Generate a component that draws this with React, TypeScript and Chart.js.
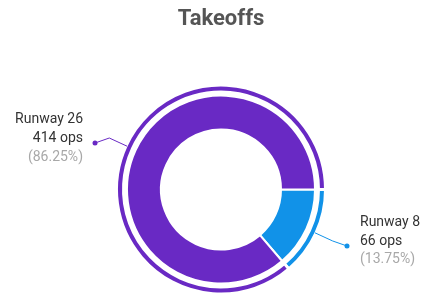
import React, { useEffect, useRef } from "react";
import { Chart, registerables } from "chart.js";

Chart.register(...registerables);

const titleText = "Takeoffs";
const categories = ["Runway 8", "Runway 26"];
const opsValues = [66, 414];
const unitLabel = "ops";
const colors = ["#1192e8", "#6929c4"];

export default function App() {
  const ref = useRef<HTMLCanvasElement>(null);

  useEffect(() => {
    if (!ref.current) return;
    const total = opsValues.reduce((a, b) => a + b, 0);

    const calloutPlugin = {
      id: "calloutLabels",
      afterDraw(chart: any) {
        const ctx = chart.ctx as CanvasRenderingContext2D;
        const area = chart.chartArea;
        const cx = (area.left + area.right) / 2;
        ctx.save();
        ctx.font = "bold 22px Roboto";
        ctx.fillStyle = "#555555";
        ctx.textAlign = "center";
        ctx.textBaseline = "alphabetic";
        ctx.fillText(titleText, cx, 25);

        const meta = chart.getDatasetMeta(2);
        meta.data.forEach((arc: any, i: number) => {
          const p = arc.getProps(["x", "y", "startAngle", "endAngle"], true);
          const mid = (p.startAngle + p.endAngle) / 2;
          const cos = Math.cos(mid);
          const sin = Math.sin(mid);
          const r0 = 103.5;
          const r1 = 123;
          const sx = p.x + cos * r0;
          const sy = p.y + sin * r0;
          const ex = p.x + cos * r1;
          const ey = p.y + sin * r1;
          const right = cos >= 0;
          const dx = p.x + (right ? 126 : -126);
          const dy = ey + 5;
          const color = colors[i];

          ctx.strokeStyle = color;
          ctx.lineWidth = 1;
          ctx.beginPath();
          ctx.moveTo(sx, sy);
          ctx.lineTo(ex, ey);
          ctx.lineTo(dx, dy);
          ctx.stroke();
          ctx.fillStyle = color;
          ctx.beginPath();
          ctx.arc(dx, dy, 2.5, 0, Math.PI * 2);
          ctx.fill();

          const tx = right ? dx + 13 : dx - 12;
          const midY = dy - 4.5;
          ctx.textAlign = right ? "left" : "right";
          ctx.textBaseline = "middle";
          ctx.font = "14px Roboto";
          ctx.fillStyle = "#333333";
          ctx.fillText(categories[i], tx, midY - 19);
          ctx.fillText(`${opsValues[i]} ${unitLabel}`, tx, midY);
          ctx.fillStyle = "#a8a8a8";
          const pct = ((opsValues[i] / total) * 100).toFixed(2);
          ctx.fillText(`(${pct}%)`, tx, midY + 18.5);
        });
        ctx.restore();
      },
    };

    const chart = new Chart(ref.current, {
      type: "doughnut",
      data: {
        labels: categories,
        datasets: [
          {
            data: opsValues,
            backgroundColor: colors,
            borderColor: "#ffffff",
            borderWidth: 3,
            weight: 7,
          },
          {
            data: opsValues,
            backgroundColor: "rgba(0,0,0,0)",
            borderWidth: 0,
            weight: 3.5,
          },
          {
            data: opsValues,
            backgroundColor: colors,
            borderColor: "#ffffff",
            borderWidth: 2,
            weight: 34,
          },
        ],
      } as any,
      options: {
        responsive: false,
        animation: false,
        rotation: 90,
        radius: 104.5,
        cutout: "57.42%",
        layout: { padding: { left: 12, top: 79, right: 0, bottom: 0 } },
        plugins: {
          legend: { display: false },
          tooltip: { enabled: false },
          title: { display: false },
        },
      } as any,
      plugins: [calloutPlugin],
    });
    return () => chart.destroy();
  }, []);

  return (
    <div style={{ position: "fixed", left: 0, top: 0, width: 430, height: 300, background: "#ffffff" }}>
      <canvas ref={ref} width={430} height={300} style={{ display: "block" }} />
    </div>
  );
}
